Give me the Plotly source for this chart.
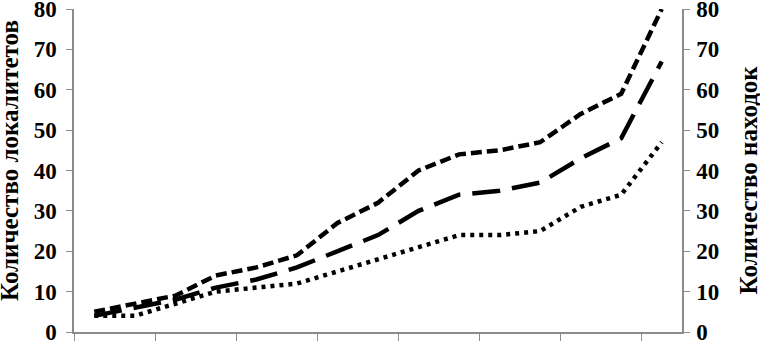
import plotly.graph_objects as go

# category index (15 categories, ticks every 2 categories)
categories = list(range(15))
finds = [5, 7, 9, 14, 16, 19, 27, 32, 40, 44, 45, 47, 54, 59, 80]
series_mid = [4, 6, 8, 11, 13, 16, 20, 24, 30, 34, 35, 37, 43, 48, 67]
series_low = [4, 4, 7, 10, 11, 12, 15, 18, 21, 24, 24, 25, 31, 34, 47]
y_ticks = [0, 10, 20, 30, 40, 50, 60, 70, 80]
x_ticks = [0, 2, 4, 6, 8, 10, 12, 14]
left_title = "Количество локалитетов"
right_title = "Количество находок"

xpos = [c + 0.5 for c in categories]

tick_font = dict(family="Liberation Serif", size=23, color="black", weight="bold")
title_font = dict(family="Liberation Serif", size=25, color="black", weight="bold")
axis_col = "#8c8c8c"

fig = go.Figure()
fig.add_trace(go.Scatter(x=xpos, y=series_low, mode="lines",
                         line=dict(color="black", width=4.5, dash="4px,5px"),
                         yaxis="y"))
fig.add_trace(go.Scatter(x=xpos, y=series_mid, mode="lines",
                         line=dict(color="black", width=4.5, dash="28px,12px"),
                         yaxis="y"))
fig.add_trace(go.Scatter(x=xpos, y=finds, mode="lines",
                         line=dict(color="black", width=4.5, dash="11px,5px"),
                         yaxis="y2"))

fig.update_layout(
    width=760, height=341,
    margin=dict(l=74, r=78, t=9, b=9, autoexpand=False),
    paper_bgcolor="white", plot_bgcolor="white",
    showlegend=False,
    xaxis=dict(range=[0, 15], tickvals=x_ticks, showticklabels=False,
               ticks="outside", ticklen=7, tickcolor=axis_col, tickwidth=1,
               showline=True, linecolor=axis_col, linewidth=1.5,
               showgrid=False, zeroline=False, automargin=False),
    yaxis=dict(range=[0, 80], tickvals=y_ticks, tickfont=tick_font,
               ticks="outside", ticklen=6, tickcolor=axis_col,
               showline=True, linecolor=axis_col, linewidth=1.5,
               showgrid=False, zeroline=False, automargin=False,
               ticklabeloverflow="allow", ticklabelstandoff=5),
    yaxis2=dict(range=[0, 80], tickvals=y_ticks, tickfont=tick_font,
                overlaying="y", side="right",
                ticks="outside", ticklen=6, tickcolor=axis_col,
                showline=True, linecolor=axis_col, linewidth=1.5,
                showgrid=False, zeroline=False, automargin=False,
                ticklabeloverflow="allow", ticklabelstandoff=2),
    annotations=[
        dict(text=left_title, font=title_font, textangle=-90, showarrow=False,
             xref="paper", yref="paper", x=-0.105, y=0.53,
             xanchor="center", yanchor="middle"),
        dict(text=right_title, font=title_font, textangle=-90, showarrow=False,
             xref="paper", yref="paper", x=1.109, y=0.47,
             xanchor="center", yanchor="middle"),
    ],
)

fig.write_html("out.html", config={"displayModeBar": False},
               post_script="document.body.style.margin='0';document.body.style.overflow='hidden';")
